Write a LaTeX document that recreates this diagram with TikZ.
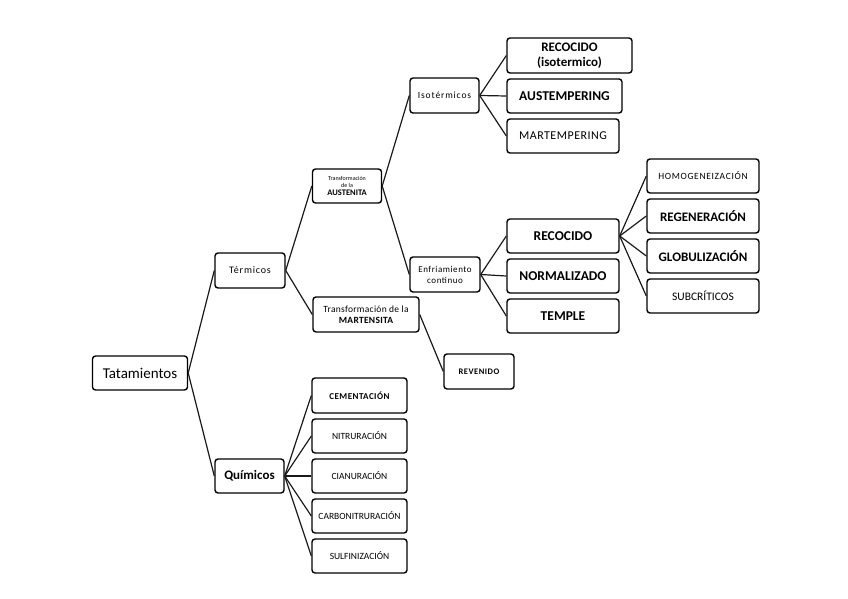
\documentclass[tikz,border=0pt]{standalone}
\usepackage{fontspec}
\setmainfont{Carlito}
\begin{document}
\begin{tikzpicture}[x=1pt,y=-1pt,
  box/.style={draw=black, rounded corners=3pt, line width=1.4pt, inner sep=0pt, align=center, text=black},
  link/.style={line width=1.2pt, draw=black!90},
  fs/.style={font=\fontsize{#1}{#1}\selectfont},
  bfs/.style={font=\fontsize{#1}{#1}\selectfont\bfseries}]
\useasboundingbox (0,0) rectangle (848,599);
\node[box, minimum width=95, minimum height=34, fs=15] (tat) at (140,373) {Tatamientos};
\node[box, minimum width=70, minimum height=35, font=\fontsize{10}{10}\selectfont\addfontfeature{LetterSpace=8}] (term) at (250,270.5) {Térmicos};
\node[box, minimum width=69, minimum height=34, bfs=13] (quim) at (249.5,476) {Químicos};
\node[box, minimum width=69, minimum height=34, font=\fontsize{6}{7}\selectfont] (aust) at (347,186) {Transformación\\de la\\[1pt]{\fontsize{8.5}{9}\selectfont\bfseries AUSTENITA}};
\node[box, minimum width=106, minimum height=35, font=\fontsize{9.5}{11}\selectfont\addfontfeature{LetterSpace=3}] (mart) at (366,314.5) {Transformación de la\\{\bfseries MARTENSITA}};
\node[box, minimum width=70, minimum height=35, font=\fontsize{8.5}{8.5}\selectfont\bfseries\addfontfeature{LetterSpace=6}] (rev) at (479,371.5) {REVENIDO};
\node[box, minimum width=69, minimum height=35, font=\fontsize{9.5}{9.5}\selectfont\addfontfeature{LetterSpace=9}] (iso) at (444.5,95.5) {Isotérmicos};
\node[box, minimum width=70, minimum height=35, font=\fontsize{9}{11}\selectfont\addfontfeature{LetterSpace=6}] (enf) at (445,274.5) {Enfriamiento\\continuo};
\node[box, minimum width=125, minimum height=35, font=\fontsize{13}{15}\selectfont\bfseries] (rec1) at (569.5,55.5) {RECOCIDO\\(isotermico)};
\node[box, minimum width=115, minimum height=34, bfs=13.5] (austemp) at (564.5,96) {AUSTEMPERING};
\node[box, minimum width=112, minimum height=34, font=\fontsize{12}{12}\selectfont\addfontfeature{LetterSpace=4}] (martemp) at (563,136) {MARTEMPERING};
\node[box, minimum width=112, minimum height=34, bfs=13.5] (rec2) at (563,236) {RECOCIDO};
\node[box, minimum width=112, minimum height=34, bfs=13.5] (norm) at (563,276) {NORMALIZADO};
\node[box, minimum width=112, minimum height=34, bfs=13.5] (temp) at (563,316) {TEMPLE};
\node[box, minimum width=112, minimum height=34, font=\fontsize{9.5}{9.5}\selectfont\addfontfeature{LetterSpace=7}] (homo) at (703,176) {HOMOGENEIZACIÓN};
\node[box, minimum width=112, minimum height=34, bfs=13] (regen) at (703,216) {REGENERACIÓN};
\node[box, minimum width=112, minimum height=34, bfs=13] (glob) at (703,256) {GLOBULIZACIÓN};
\node[box, minimum width=112, minimum height=34, fs=11.5] (subc) at (703,296) {SUBCRÍTICOS};
\node[box, minimum width=95, minimum height=35, font=\fontsize{9}{9}\selectfont\bfseries\addfontfeature{LetterSpace=5}] (cem) at (359.5,395.5) {CEMENTACIÓN};
\node[box, minimum width=95, minimum height=34, fs=9.5] (nit) at (359.5,436) {NITRURACIÓN};
\node[box, minimum width=95, minimum height=34, fs=9.5] (cian) at (359.5,476) {CIANURACIÓN};
\node[box, minimum width=95, minimum height=34, fs=9.5] (carb) at (359.5,516) {CARBONITRURACIÓN};
\node[box, minimum width=95, minimum height=34, fs=9.5] (sulf) at (359.5,556) {SULFINIZACIÓN};
\foreach \a/\b in {tat/term, tat/quim, term/aust, term/mart, mart/rev, aust/iso, aust/enf,
  iso/rec1, iso/austemp, iso/martemp, enf/rec2, enf/norm, enf/temp,
  rec2/homo, rec2/regen, rec2/glob, rec2/subc,
  quim/cem, quim/nit, quim/cian, quim/carb, quim/sulf}
  \draw[link] (\a.east) -- (\b.west);
\end{tikzpicture}
\end{document}
